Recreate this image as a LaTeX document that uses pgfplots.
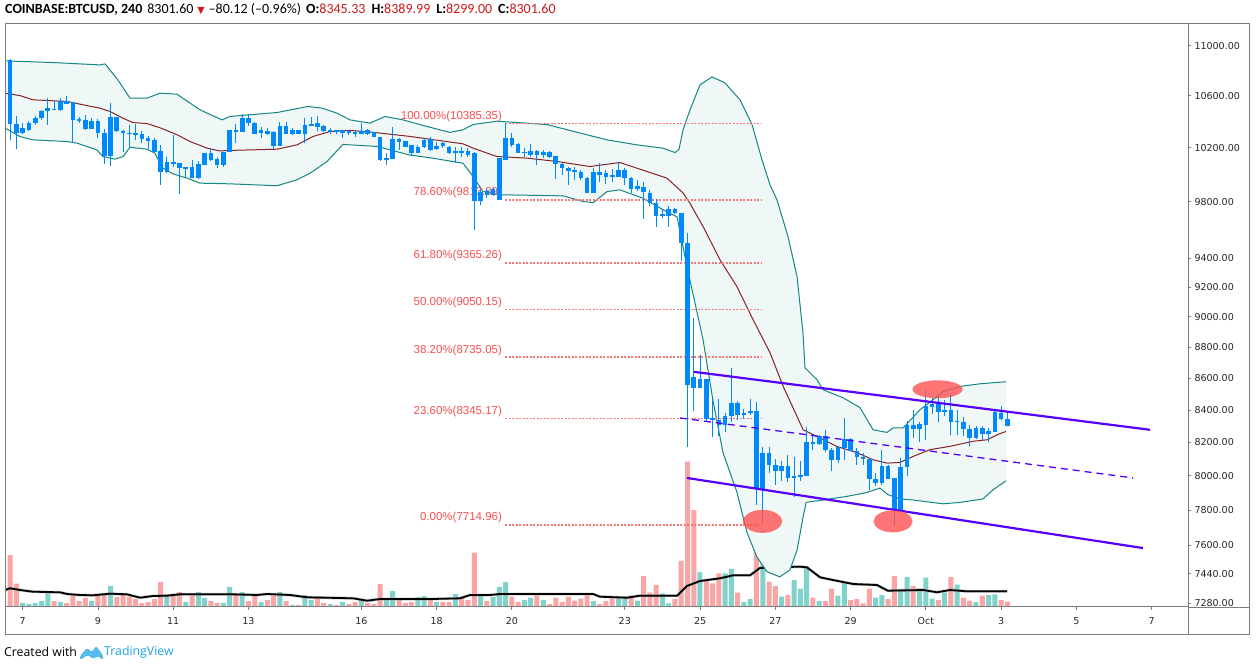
\documentclass[border=0pt]{standalone}
\usepackage{pgfplots}
\pgfplotsset{compat=1.18}
\usepackage{pgfplotstable}
\usepackage{fontspec}
\setmainfont{Liberation Sans}
\newfontfamily\dejavu{DejaVu Sans}
\newfontfamily\carlito{Carlito}
\newfontfamily\opensans{Open Sans}

\definecolor{candle}{RGB}{0,137,250}
\definecolor{volred}{RGB}{250,165,165}
\definecolor{volteal}{RGB}{128,211,203}
\definecolor{bbline}{RGB}{19,135,132}
\definecolor{bbfill}{RGB}{240,247,247}
\definecolor{basis}{RGB}{135,35,35}
\definecolor{fibred}{RGB}{250,80,80}
\definecolor{fibline}{RGB}{248,120,120}
\definecolor{chan}{RGB}{85,0,255}
\definecolor{ell}{RGB}{255,82,82}
\definecolor{axgray}{RGB}{125,125,125}
\definecolor{hdrred}{RGB}{205,25,25}
\definecolor{tvblue}{RGB}{30,165,230}

\pgfplotstableread{
i o h l c
0 10886 10894 10260 10385
1 10385 10444 10189 10312
2 10312 10390 10307 10354
3 10337 10403 10324 10390
4 10390 10444 10377 10431
5 10425 10491 10413 10483
6 10478 10582 10377 10504
7 10499 10556 10486 10486
8 10486 10582 10483 10561
9 10561 10600 10538 10538
10 10551 10551 10235 10415
11 10423 10439 10390 10405
12 10413 10452 10337 10344
13 10344 10425 10344 10408
14 10405 10418 10273 10312
15 10312 10342 10079 10139
16 10139 10548 10064 10434
17 10434 10439 10317 10324
18 10329 10337 10171 10312
19 10312 10377 10209 10305
20 10312 10385 10260 10299
21 10307 10324 10235 10268
22 10273 10286 10189 10255
23 10260 10273 10171 10171
24 10176 10222 9924 10015
25 10015 10134 10010 10092
26 10092 10299 10059 10079
27 10084 10089 9857 10047
28 10044 10059 9985 10054
29 10059 10109 9973 9973
30 9975 10097 9968 10077
31 10071 10159 10071 10159
32 10159 10197 10104 10109
33 10117 10129 10047 10071
34 10071 10171 10059 10167
35 10167 10337 10167 10337
36 10337 10380 10235 10317
37 10317 10457 10317 10428
38 10428 10457 10367 10390
39 10390 10395 10304 10307
40 10312 10360 10273 10334
41 10329 10352 10299 10307
42 10317 10324 10189 10215
43 10215 10398 10215 10367
44 10367 10395 10304 10304
45 10304 10349 10299 10337
46 10337 10337 10304 10304
47 10304 10425 10235 10377
48 10367 10439 10367 10385
49 10390 10444 10324 10362
50 10367 10377 10317 10324
51 10317 10352 10304 10334
52 10334 10337 10307 10320
53 10312 10337 10273 10334
54 10329 10337 10299 10312
55 10317 10324 10281 10304
56 10304 10390 10304 10327
57 10304 10342 10294 10334
58 10317 10317 10281 10281
59 10281 10281 10101 10109
60 10109 10159 10071 10126
61 10117 10360 10117 10268
62 10268 10273 10184 10247
63 10252 10252 10204 10209
64 10217 10217 10141 10164
65 10164 10222 10159 10204
66 10209 10273 10197 10260
67 10265 10278 10179 10184
68 10189 10247 10184 10215
69 10215 10247 10197 10235
70 10204 10215 10154 10159
71 10159 10209 10084 10176
72 10159 10209 10134 10176
73 10176 10197 10134 10146
74 10159 10171 9598 9802
75 9809 9887 9779 9874
76 9880 9894 9826 9850
77 9850 9900 9843 9892
78 9814 10122 9814 10122
79 10109 10390 10109 10273
80 10273 10312 10209 10222
81 10230 10235 10159 10159
82 10167 10197 10134 10159
83 10179 10230 10134 10146
84 10179 10184 10071 10146
85 10146 10184 10122 10171
86 10171 10176 10122 10134
87 10139 10139 9966 10077
88 10079 10084 9998 10047
89 10047 10059 9924 10028
90 10035 10059 9956 10015
91 10022 10030 9956 9973
92 9973 9985 9862 9867
93 9867 10047 9867 10022
94 10022 10084 9948 9998
95 10010 10035 9931 9985
96 9993 10040 9948 9984
97 9985 10084 9985 10035
98 9973 10047 9924 10035
99 9973 9985 9867 9892
100 9892 9961 9882 9916
101 9907 9948 9675 9874
102 9867 9887 9766 9794
103 9794 9819 9618 9694
104 9694 9747 9682 9713
105 9694 9766 9618 9747
106 9747 9754 9713 9718
107 9718 9718 9376 9504
108 9504 9575 8172 8555
109 8609 8993 8391 8537
110 8537 8750 8537 8596
111 8596 8596 8328 8343
112 8350 8467 8232 8335
113 8339 8467 8240 8304
114 8304 8381 8263 8364
115 8360 8664 8322 8442
116 8442 8457 8339 8366
117 8366 8405 8343 8381
118 8381 8469 8370 8394
119 8394 8446 7830 7922
120 7922 8172 7725 8135
121 8135 8172 8019 8062
122 8062 8100 7944 8026
123 8026 8085 7972 8056
124 8056 8126 7966 7990
125 7986 8111 7875 8000
126 7996 8085 7972 8006
127 8000 8294 8000 8202
128 8202 8246 8152 8190
129 8190 8246 8186 8240
130 8240 8273 8139 8152
131 8156 8166 8026 8091
132 8091 8176 8075 8172
133 8166 8350 8091 8220
134 8220 8226 8146 8146
135 8146 8166 8062 8113
136 8113 8136 8062 8100
137 8100 8106 7914 7980
138 7960 8016 7941 7982
139 7960 8152 7947 8060
140 8060 8066 7980 7980
141 7986 7986 7710 7801
142 7801 8106 7801 8052
143 8052 8329 8000 8308
144 8308 8401 8226 8283
145 8283 8322 8200 8314
146 8308 8526 8212 8426
147 8421 8474 8376 8438
148 8438 8495 8322 8384
149 8384 8459 8360 8401
150 8401 8505 8246 8322
151 8322 8401 8246 8329
152 8326 8356 8236 8281
153 8281 8308 8176 8224
154 8224 8298 8220 8287
155 8287 8298 8216 8252
156 8252 8287 8200 8271
157 8266 8401 8266 8387
158 8343 8426 8339 8382
159 8345.33 8389.99 8299.00 8301.60
}\candles

\pgfplotstableread{
i v
0 5100
1 2230
7 500
9 300
10 1030
11 500
12 800
14 1030
15 1230
17 900
18 1270
19 930
20 700
21 300
22 400
23 700
24 2400
26 1200
27 1400
29 1030
32 500
33 300
36 1200
38 500
39 1030
41 600
42 1030
44 500
46 100
49 800
50 300
52 100
54 200
55 400
57 300
58 200
59 2200
62 600
63 300
64 400
67 800
69 400
70 400
72 800
73 600
74 5330
76 500
80 930
81 400
84 1070
86 200
87 830
88 400
89 930
90 530
91 730
92 1070
94 200
95 500
96 730
99 1030
101 3000
102 1330
103 2100
106 700
107 4530
108 14430
109 9600
111 2530
112 2270
113 3270
116 1330
119 8330
121 2430
122 2000
124 1100
128 830
130 500
131 1730
134 600
135 700
136 270
137 1730
140 700
141 3000
144 2000
148 600
150 2900
152 830
153 530
155 1030
158 600
159 430
}\volr

\pgfplotstableread{
i v
2 300
3 200
4 300
5 500
6 1270
8 400
13 500
16 2000
25 1200
28 400
30 1400
31 800
34 300
35 1900
37 1400
40 400
43 1400
45 100
47 1100
48 600
51 200
53 400
56 600
60 800
61 1500
65 900
66 1000
68 400
71 1200
75 1000
77 900
78 1900
79 2400
82 600
83 830
85 600
93 500
97 730
98 830
100 530
104 1270
105 270
110 3400
114 3270
115 3700
117 400
118 700
120 8600
123 930
125 2600
126 1730
127 3930
129 500
132 1030
133 2330
138 830
139 1100
142 1730
143 2900
145 1730
146 2830
147 730
149 1330
151 2130
154 400
156 1100
157 1170
}\volt

\pgfplotstableread{
d p
6.53 10878
7.805 10865
9.054 10846
9.187 10854
9.53 10726
9.851 10582
10.303 10582
10.649 10621
11.100 10613
11.712 10491
12.296 10413
12.509 10439
12.695 10444
13.758 10470
14.582 10517
14.954 10504
15.352 10465
15.698 10413
16.229 10388
16.628 10439
17.107 10413
17.744 10362
18.355 10317
18.700 10337
18.966 10377
19.604 10403
20.933 10377
21.810 10312
22.527 10260
23.325 10222
24.016 10197
24.335 10164
24.441 10189
24.548 10337
24.734 10491
25.000 10687
25.318 10750
25.664 10702
26.062 10569
26.381 10377
26.647 10109
26.859 9924
27.045 9814
27.337 9551
27.577 9272
27.736 8893
27.789 8666
28.108 8590
28.268 8526
28.799 8476
29.251 8414
29.597 8277
29.969 8261
30.128 8288
30.394 8288
30.846 8401
31.191 8463
31.457 8515
31.909 8547
32.440 8564
33.131 8577
}\bbup

\pgfplotstableread{
d p
6.53 10350
6.93 10285
7.27 10260
8.18 10247
8.44 10235
8.97 10184
9.13 10134
9.45 10114
9.67 10134
9.85 10204
10.30 10189
10.51 10159
10.73 10047
10.99 10005
11.37 9973
11.71 9936
12.51 9931
13.76 9917
14.29 9961
14.64 10010
15.09 10097
15.51 10225
16.42 10210
17.27 10146
17.80 10126
18.70 10084
18.97 9985
19.23 9875
19.68 9851
21.36 9843
21.89 9802
22.16 9794
22.53 9874
22.87 9887
23.48 9826
24.02 9742
24.39 9690
24.65 9343
25.08 8848
25.34 8463
25.61 8138
25.98 7904
26.25 7670
26.51 7534
26.78 7452
27.12 7423
27.39 7462
27.58 7574
27.74 7761
27.82 7844
28.19 7856
28.91 7880
29.44 7903
29.78 7929
29.99 7890
30.31 7865
30.66 7859
31.46 7836
31.91 7844
32.52 7865
32.79 7918
33.13 7971
}\bblo

% band area: upper band forward, lower band backward
\pgfplotstableread{
d p
6.53 10878
7.805 10865
9.054 10846
9.187 10854
9.53 10726
9.851 10582
10.303 10582
10.649 10621
11.100 10613
11.712 10491
12.296 10413
12.509 10439
12.695 10444
13.758 10470
14.582 10517
14.954 10504
15.352 10465
15.698 10413
16.229 10388
16.628 10439
17.107 10413
17.744 10362
18.355 10317
18.700 10337
18.966 10377
19.604 10403
20.933 10377
21.810 10312
22.527 10260
23.325 10222
24.016 10197
24.335 10164
24.441 10189
24.548 10337
24.734 10491
25.000 10687
25.318 10750
25.664 10702
26.062 10569
26.381 10377
26.647 10109
26.859 9924
27.045 9814
27.337 9551
27.577 9272
27.736 8893
27.789 8666
28.108 8590
28.268 8526
28.799 8476
29.251 8414
29.597 8277
29.969 8261
30.128 8288
30.394 8288
30.846 8401
31.191 8463
31.457 8515
31.909 8547
32.440 8564
33.131 8577
33.13 7971
32.79 7918
32.52 7865
31.91 7844
31.46 7836
30.66 7859
30.31 7865
29.99 7890
29.78 7929
29.44 7903
28.91 7880
28.19 7856
27.82 7844
27.74 7761
27.58 7574
27.39 7462
27.12 7423
26.78 7452
26.51 7534
26.25 7670
25.98 7904
25.61 8138
25.34 8463
25.08 8848
24.65 9343
24.39 9690
24.02 9742
23.48 9826
22.87 9887
22.53 9874
22.16 9794
21.89 9802
21.36 9843
19.68 9851
19.23 9875
18.97 9985
18.70 10084
17.80 10126
17.27 10146
16.42 10210
15.51 10225
15.09 10097
14.64 10010
14.29 9961
13.76 9917
12.51 9931
11.71 9936
11.37 9973
10.99 10005
10.73 10047
10.51 10159
10.30 10189
9.85 10204
9.67 10134
9.45 10114
9.13 10134
8.97 10184
8.44 10235
8.18 10247
7.27 10260
6.93 10285
6.53 10350
}\bbarea

\pgfplotstableread{
d p
6.53 10621
6.93 10602
7.27 10569
8.18 10556
8.52 10535
9.05 10504
9.32 10478
9.67 10425
9.93 10392
10.30 10385
10.65 10352
11.10 10299
11.45 10247
11.90 10197
12.24 10176
12.51 10180
13.76 10189
14.29 10222
14.72 10286
15.17 10324
15.70 10332
16.23 10320
17.29 10286
17.82 10265
18.70 10230
18.97 10197
19.60 10134
20.40 10122
21.20 10097
22.07 10059
22.87 10089
23.59 10022
24.12 9973
24.55 9864
24.73 9790
25.08 9622
25.53 9388
25.98 9203
26.41 8980
26.86 8763
27.21 8547
27.74 8277
28.11 8236
28.64 8175
29.17 8138
29.60 8095
29.97 8075
30.31 8079
30.66 8115
31.11 8156
31.64 8176
32.26 8207
32.63 8216
32.89 8246
33.13 8267
}\bbmid

\pgfplotstableread{
d v
6.53 1600
6.66 1770
6.93 1600
7.27 1430
7.99 1370
8.18 1200
8.52 1100
8.87 1070
9.32 1230
9.77 1170
10.12 830
10.46 1000
10.83 1030
11.18 1170
12.59 1170
13.23 1100
13.49 1200
14.10 1100
14.56 870
15.78 770
16.15 530
16.50 700
17.90 700
18.62 770
18.89 1100
19.42 1100
19.69 1200
22.16 1200
22.34 930
23.06 830
23.40 1030
24.39 1030
24.65 2000
25.00 2500
25.53 2770
25.88 3070
26.33 3070
26.59 3800
26.94 3870
27.66 3930
27.84 3870
28.19 2870
28.53 2600
29.07 2200
29.70 2100
29.99 1530
30.93 1600
31.30 1370
31.64 1600
32.09 1470
33.16 1470
}\volma

\pgfplotstableread{
lev p
100.00 10385.35
78.60 9813.89
61.80 9365.26
50.00 9050.15
38.20 8735.05
23.60 8345.17
0.00 7714.96
}\fib

\begin{document}
\begin{tikzpicture}
\path[use as bounding box, fill=white] (0,0) rectangle (1260pt,665pt);

% volume pane
\begin{axis}[
  at={(5pt,58pt)}, anchor=south west, scale only axis,
  width=1183pt, height=583pt,
  xmin=6.5296, xmax=37.9676, ymin=-100, ymax=58200,
  hide axis, clip=true]
\addplot[ybar, bar width=5pt, bar shift=0pt, fill=volred, draw=none]
  table[x expr=6.6667+\thisrow{i}/6, y=v] {\volr};
\addplot[ybar, bar width=5pt, bar shift=0pt, fill=volteal, draw=none]
  table[x expr=6.6667+\thisrow{i}/6, y=v] {\volt};
\addplot[black!40, line width=3pt, opacity=0.5] table[x=d, y=v] {\volma};
\addplot[black, line width=1.8pt] table[x=d, y=v] {\volma};
\end{axis}

% price pane
\begin{axis}[
  at={(5pt,58pt)}, anchor=south west, scale only axis,
  width=1183pt, height=583pt,
  xmin=6.5296, xmax=37.9676, ymode=log, ymin=7260, ymax=11180.7,
  axis x line*=bottom, axis y line*=right,
  axis line style={axgray, line width=0.8pt},
  xtick={7,9,11,13,16,18,20,23,25,27,29,31,33,35,37},
  xticklabels={7,9,11,13,16,18,20,23,25,27,29,Oct,3,5,7},
  ytick={7280,7440,7600,7800,8000,8200,8400,8600,8800,9000,9200,9400,9800,10200,10600,11000},
  yticklabels={7280.00,7440.00,7600.00,7800.00,8000.00,8200.00,8400.00,8600.00,8800.00,9000.00,9200.00,9400.00,9800.00,10200.00,10600.00,11000.00},
  tick align=outside, major tick length=3pt,
  tick style={axgray, line width=0.8pt},
  ticklabel style={font=\dejavu\fontsize{9.5}{11}\selectfont, text=black!85},
  xticklabel style={yshift=-4pt},
  clip=true]

% Bollinger bands
\addplot[fill=bbfill, draw=none, forget plot] table[x=d,y=p] {\bbarea} -- cycle;
\addplot[bbline, line width=1pt, line join=round] table[x=d,y=p] {\bbup};
\addplot[bbline, line width=1pt, line join=round] table[x=d,y=p] {\bblo};
\addplot[basis, line width=1pt, line join=round] table[x=d,y=p] {\bbmid};

% Fibonacci levels and their labels
\pgfplotsforeachungrouped \k in {0,...,6}{%
  \pgfplotstablegetelem{\k}{p}\of\fib\let\vp\pgfplotsretval
  \pgfplotstablegetelem{\k}{lev}\of\fib\let\vlev\pgfplotsretval
  \edef\doplot{%
    \noexpand\addplot[draw=fibline, line width=1.4pt, dash pattern=on 2pt off 1.5pt, forget plot] coordinates {(19.82,\vp) (26.65,\vp)};%
    \noexpand\node[anchor=east, inner sep=0pt, xshift=-3pt, yshift=7pt, text=fibred, font=\noexpand\fontsize{11.5}{12}\noexpand\selectfont] at (axis cs:19.82,\vp) {\vlev\noexpand\%(\vp)};%
  }\doplot
}

% candles (wick low-high, body open-close), one pair per row of the table
\pgfplotsforeachungrouped \k in {0,...,159}{%
  \pgfplotstablegetelem{\k}{o}\of\candles\let\vo\pgfplotsretval
  \pgfplotstablegetelem{\k}{h}\of\candles\let\vh\pgfplotsretval
  \pgfplotstablegetelem{\k}{l}\of\candles\let\vl\pgfplotsretval
  \pgfplotstablegetelem{\k}{c}\of\candles\let\vc\pgfplotsretval
  \pgfmathsetmacro\xx{6.6667+\k/6}%
  \edef\doplot{%
    \noexpand\addplot[candle, line width=1pt, forget plot] coordinates {(\xx,\vl) (\xx,\vh)};%
    \noexpand\addplot[candle, line width=4.6pt, forget plot] coordinates {(\xx,\vo) (\xx,\vc)};%
  }\doplot
}

% channel
\addplot[chan, line width=2.2pt] coordinates {(24.84,8640) (36.96,8277)};
\addplot[chan, line width=1.3pt, dash pattern=on 7pt off 5pt] coordinates {(24.47,8350) (36.51,7988)};
\addplot[chan, line width=2.2pt] coordinates {(24.65,7988) (36.77,7584)};

% highlighted ellipses
\fill[ell, opacity=0.8] (axis cs:26.66,7735) ellipse [x radius=19.5pt, y radius=11.5pt];
\fill[ell, opacity=0.8] (axis cs:30.13,7735) ellipse [x radius=19.5pt, y radius=11pt];
\fill[ell, opacity=0.8] (axis cs:31.31,8529) ellipse [x radius=25pt, y radius=9pt];
\end{axis}

% frame
\draw[axgray, line width=0.8pt] (5pt,641.5pt) -- (5pt,31pt) -- (1249pt,31pt) -- (1249pt,641.5pt) -- cycle;
\draw[axgray, line width=0.8pt] (1188pt,31pt) -- (1188pt,58pt);
\draw[axgray, line width=0.8pt] (1188pt,58pt) -- (1249pt,58pt);

% header
\node[anchor=west, inner sep=0pt] at (5pt,656pt) {\carlito\fontsize{14}{16}\selectfont
  \textbf{COINBASE:BTCUSD, 240}\hspace{5pt}8301.60\hspace{4pt}{\color{hdrred}\dejavu\fontsize{9.5}{10}\selectfont ▼}\hspace{4pt}–80.12 (–0.96\%)\hspace{5pt}\textbf{O:}{\color{hdrred}8345.33}\hspace{6pt}\textbf{H:}{\color{hdrred}8389.99}\hspace{6pt}\textbf{L:}{\color{hdrred}8299.00}\hspace{6pt}\textbf{C:}{\color{hdrred}8301.60}};

% footer
\node[anchor=west, inner sep=0pt] at (4pt,13pt) {\opensans\fontsize{12.3}{14}\selectfont Created with};
\fill[tvblue!75, rounded corners=1.5pt] (80pt,5pt) -- (80pt,9pt) -- (87pt,17pt) -- (92pt,13pt) -- (96pt,19pt) -- (103pt,10pt) -- (103pt,5pt) -- (98pt,9pt) -- (93pt,6pt) -- (88pt,10pt) -- cycle;
\node[anchor=west, inner sep=0pt] at (104pt,13pt) {\opensans\fontsize{12.3}{14}\selectfont\color{tvblue}TradingView};
\end{tikzpicture}
\end{document}
